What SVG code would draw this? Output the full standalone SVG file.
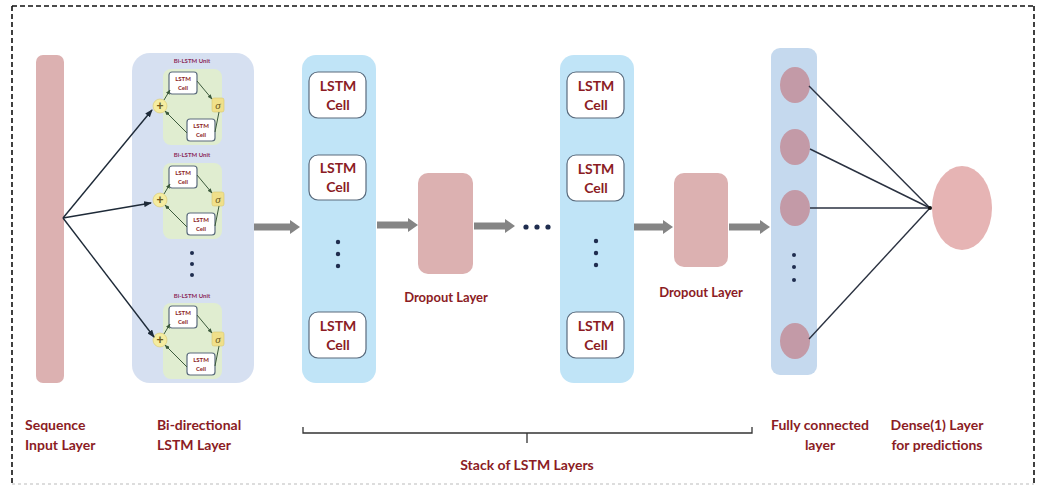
<svg xmlns="http://www.w3.org/2000/svg" width="1037" height="488" viewBox="0 0 1037 488">
<defs>
<style>
.lbl{font-family:Lato,"Liberation Sans",sans-serif;font-weight:bold;fill:#8b1c24;font-size:14px;}
.dl{font-size:13px;}
.cell{fill:#ffffff;stroke:#5a6b7d;stroke-width:1.2;}
.ct{font-family:Lato,"Liberation Sans",sans-serif;font-weight:bold;fill:#8b1c24;font-size:14px;text-anchor:middle;}
.st{font-family:Lato,"Liberation Sans",sans-serif;font-weight:bold;fill:#8b1c24;font-size:6px;text-anchor:middle;}
.sl{font-family:Lato,"Liberation Sans",sans-serif;font-weight:bold;fill:#8b2a5a;font-size:6px;text-anchor:middle;}
.pink{fill:#dcb1b1;}
.gray{stroke:#858585;stroke-width:7;fill:none;}
.thin{stroke:#1e2a38;stroke-width:1.4;fill:none;}
.fc{stroke:#2a3140;stroke-width:1.4;fill:none;}
.dot{fill:#1f2d4f;}
.node{fill:#c39aa7;}
.small{stroke:#3c5a3c;stroke-width:1;fill:none;}
</style>
<marker id="gh" markerUnits="userSpaceOnUse" markerWidth="10" markerHeight="14" refX="1" refY="7" orient="auto">
<path d="M0,0 L10,7 L0,14 Z" fill="#858585"/>
</marker>
<marker id="bh" markerUnits="userSpaceOnUse" markerWidth="8" markerHeight="6" refX="7" refY="3" orient="auto">
<path d="M0,0 L8,3 L0,6 Z" fill="#1e2a38"/>
</marker>
<marker id="sh" markerUnits="userSpaceOnUse" markerWidth="5" markerHeight="4" refX="4.5" refY="2" orient="auto">
<path d="M0,0 L5,2 L0,4 Z" fill="#3c5a3c"/>
</marker>
<g id="unit">
<rect x="0" y="0" width="59" height="76" rx="8" fill="#e0edd0"/>
<rect class="cell" x="6" y="3" width="28" height="22" rx="3" stroke-width="0.8"/>
<text class="st" x="20" y="12">LSTM</text>
<text class="st" x="20" y="21">Cell</text>
<rect class="cell" x="24" y="50" width="28" height="22" rx="3" stroke-width="0.8"/>
<text class="st" x="38" y="59">LSTM</text>
<text class="st" x="38" y="68">Cell</text>
<circle cx="-3" cy="37" r="7" fill="#f5eca0" stroke="#d8c870" stroke-width="0.6"/>
<text x="-3" y="41" font-family="Liberation Sans,sans-serif" font-size="12" font-weight="bold" fill="#6b5a20" text-anchor="middle">+</text>
<rect x="49" y="29" width="12" height="14" rx="2" fill="#f0e08a" stroke="#d8c870" stroke-width="0.6"/>
<text x="55" y="40" font-family="Liberation Serif,serif" font-size="11" font-style="italic" fill="#6b5a20" text-anchor="middle">σ</text>
<path class="small" d="M1,31 L7,21" marker-end="url(#sh)"/>
<path class="small" d="M34,12 L49,30" marker-end="url(#sh)"/>
<path class="small" d="M56,43 L52,63"/>
<path class="small" d="M24,64 L2,42" marker-end="url(#sh)"/>
</g>
</defs>

<rect width="1037" height="488" fill="#ffffff"/>

<g id="border" fill="none">
<path d="M12,6 H1034 M12,6 V484 M1034,6 V484" stroke="#111" stroke-width="1.6" stroke-dasharray="5,3"/>
<path d="M12,484 H1034" stroke="#bbbbbb" stroke-width="1.2" stroke-dasharray="3,3"/>
</g>

<g id="input-layer">
<rect class="pink" x="36" y="55" width="28" height="328" rx="7"/>
<text class="lbl" x="25" y="430">Sequence</text>
<text class="lbl" x="25" y="450">Input Layer</text>
</g>

<g id="bilstm-layer">
<rect x="132" y="53" width="122" height="330" rx="18" fill="#d6e0f1"/>
<text class="sl" x="192" y="63">Bi-LSTM Unit</text>
<use href="#unit" x="163" y="69"/>
<text class="sl" x="192" y="157">Bi-LSTM Unit</text>
<use href="#unit" x="163" y="163"/>
<circle class="dot" cx="192" cy="253" r="2"/>
<circle class="dot" cx="192" cy="264" r="2"/>
<circle class="dot" cx="192" cy="275" r="2"/>
<text class="sl" x="192" y="298">Bi-LSTM Unit</text>
<use href="#unit" x="163" y="303"/>
<text class="lbl" x="157" y="430">Bi-directional</text>
<text class="lbl" x="157" y="450">LSTM Layer</text>
</g>

<g id="lstm-stack-1">
<rect x="302" y="55" width="74" height="328" rx="14" fill="#c0e4f7"/>
<rect class="cell" x="309" y="72" width="57" height="46" rx="9"/>
<text class="ct" x="338" y="91">LSTM</text>
<text class="ct" x="338" y="110">Cell</text>
<rect class="cell" x="309" y="155" width="57" height="45" rx="9"/>
<text class="ct" x="338" y="173">LSTM</text>
<text class="ct" x="338" y="192">Cell</text>
<circle class="dot" cx="338" cy="242" r="2.2"/>
<circle class="dot" cx="338" cy="254" r="2.2"/>
<circle class="dot" cx="338" cy="266" r="2.2"/>
<rect class="cell" x="309" y="312" width="57" height="46" rx="9"/>
<text class="ct" x="338" y="331">LSTM</text>
<text class="ct" x="338" y="350">Cell</text>
</g>

<g id="dropout-1">
<rect class="pink" x="418" y="173" width="55" height="101" rx="10"/>
<text class="lbl dl" x="446" y="302" text-anchor="middle">Dropout Layer</text>
</g>

<g id="ellipsis">
<circle class="dot" cx="526" cy="227" r="2.6"/>
<circle class="dot" cx="537" cy="227" r="2.6"/>
<circle class="dot" cx="548" cy="227" r="2.6"/>
</g>

<g id="lstm-stack-2">
<rect x="560" y="55" width="74" height="328" rx="14" fill="#c0e4f7"/>
<rect class="cell" x="567" y="72" width="57" height="46" rx="9"/>
<text class="ct" x="596" y="91">LSTM</text>
<text class="ct" x="596" y="110">Cell</text>
<rect class="cell" x="567" y="155" width="57" height="46" rx="9"/>
<text class="ct" x="596" y="174">LSTM</text>
<text class="ct" x="596" y="193">Cell</text>
<circle class="dot" cx="596" cy="241" r="2.2"/>
<circle class="dot" cx="596" cy="253" r="2.2"/>
<circle class="dot" cx="596" cy="265" r="2.2"/>
<rect class="cell" x="567" y="312" width="57" height="46" rx="9"/>
<text class="ct" x="596" y="331">LSTM</text>
<text class="ct" x="596" y="350">Cell</text>
</g>

<g id="dropout-2">
<rect class="pink" x="674" y="173" width="54" height="94" rx="10"/>
<text class="lbl dl" x="701" y="297" text-anchor="middle">Dropout Layer</text>
</g>

<g id="fc-layer">
<rect x="771" y="48" width="46" height="327" rx="9" fill="#c5d9ee"/>
<ellipse class="node" cx="795" cy="85" rx="15" ry="18"/>
<ellipse class="node" cx="795" cy="147" rx="15" ry="18"/>
<ellipse class="node" cx="795" cy="208" rx="15" ry="18"/>
<circle class="dot" cx="794" cy="255" r="2"/>
<circle class="dot" cx="794" cy="267" r="2"/>
<circle class="dot" cx="794" cy="280" r="2"/>
<ellipse class="node" cx="795" cy="341" rx="15" ry="18"/>
<text class="lbl" x="820" y="430" text-anchor="middle">Fully connected</text>
<text class="lbl" x="820" y="450" text-anchor="middle">layer</text>
</g>

<g id="dense-layer">
<ellipse cx="962" cy="208" rx="30" ry="42" fill="#e6b4b4"/>
<text class="lbl" x="937" y="430" text-anchor="middle">Dense(1) Layer</text>
<text class="lbl" x="937" y="450" text-anchor="middle">for predictions</text>
</g>

<g id="stack-bracket">
<path d="M303,427 V433 H752 V427 M527,433 V443" fill="none" stroke="#333" stroke-width="1.3"/>
<text class="lbl" x="527" y="470" text-anchor="middle">Stack of LSTM Layers</text>
</g>

<g id="connectors">
<path class="thin" d="M63,218 L152,110" marker-end="url(#bh)"/>
<path class="thin" d="M63,218 L151,203" marker-end="url(#bh)"/>
<path class="thin" d="M63,218 L154,337" marker-end="url(#bh)"/>
<path class="gray" d="M254,227 H291" marker-end="url(#gh)"/>
<path class="gray" d="M377,225 H409" marker-end="url(#gh)"/>
<path class="gray" d="M474,226 H506" marker-end="url(#gh)"/>
<path class="gray" d="M634,227 H664" marker-end="url(#gh)"/>
<path class="gray" d="M729,227 H761" marker-end="url(#gh)"/>
<path class="fc" d="M809,86 L930,208"/>
<path class="fc" d="M810,149 L930,208"/>
<path class="fc" d="M810,208 L930,208"/>
<path class="fc" d="M809,339 L930,208"/>
<circle cx="930" cy="208" r="2" fill="#111"/>
</g>
</svg>
